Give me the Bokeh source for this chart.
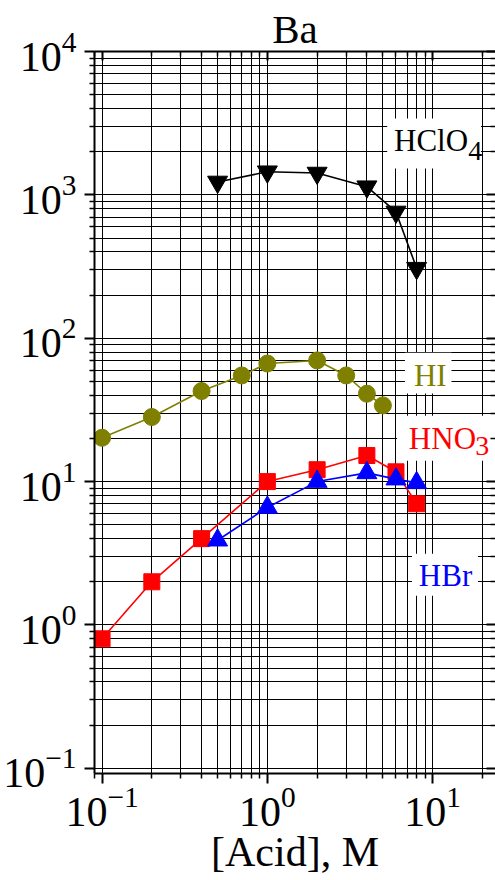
import numpy as np
from bokeh.plotting import figure
from bokeh.models import LogAxis, FixedTicker, LogTickFormatter, Range1d
from bokeh.core.properties import value
from bokeh.embed import file_html
from bokeh.resources import INLINE

# ---- data ----
acid_hclo4 = [0.5, 1, 2, 4, 6, 8]
d_hclo4 = [1230, 1450, 1420, 1140, 760, 308]

acid_hi = [0.1, 0.2, 0.4, 0.7, 1, 2, 3, 4, 5]
d_hi = [20.2, 28.2, 42.8, 55, 66.6, 70, 55, 41, 34]

acid_hno3 = [0.1, 0.2, 0.4, 1, 2, 4, 6, 8]
d_hno3 = [0.8, 2.0, 4.0, 10, 12.1, 15.2, 11.7, 7.0]

acid_hbr = [0.5, 1, 2, 4, 6, 8]
d_hbr = [3.9, 6.6, 10.0, 11.5, 10.4, 9.8]

x_major = [0.1, 1, 10]
y_major = [0.1, 1, 10, 100, 1000, 10000]

FONT = "Liberation Serif"

x_minor = [m * 10.0 ** e for e in range(-2, 2) for m in range(2, 10)]
y_minor = [m * 10.0 ** e for e in range(-2, 4) for m in range(2, 10)]

xt = FixedTicker(ticks=x_major, minor_ticks=x_minor)
yt = FixedTicker(ticks=y_major, minor_ticks=y_minor)

p = figure(width=495, height=880, x_axis_type="log", y_axis_type="log",
           x_range=Range1d(0.09, 24), y_range=Range1d(0.092, 10000),
           output_backend="svg", toolbar_location=None,
           min_border_left=90, min_border_right=0, min_border_top=51,
           min_border_bottom=107, outline_line_color=None)

p.title.text = "Ba"
p.title.align = "center"
p.title.text_font = FONT
p.title.text_font_size = "41px"
p.title.text_font_style = "normal"
p.title.text_color = "black"
p.title.standoff = 0

for g, t in ((p.xgrid, xt), (p.ygrid, yt)):
    g.ticker = t
    g.grid_line_color = "black"
    g.grid_line_width = 1
    g.minor_grid_line_color = "black"
    g.minor_grid_line_width = 1

def style_axis(ax, ticker, labels=True, inward=False):
    ax.ticker = ticker
    ax.formatter = LogTickFormatter()
    ax.axis_line_width = 2
    ax.major_tick_line_width = 2
    ax.minor_tick_line_width = 1.5
    if inward:
        ax.major_tick_in = 9
        ax.major_tick_out = 0
        ax.minor_tick_in = 5
        ax.minor_tick_out = 0
    else:
        ax.major_tick_in = 0
        ax.major_tick_out = 10
        ax.minor_tick_in = 0
        ax.minor_tick_out = 5
    if labels:
        ax.major_label_text_font = FONT
        ax.major_label_text_font_size = "42px"
        ax.major_label_text_color = "black"
    else:
        ax.major_label_text_font_size = "1px"
        ax.major_label_text_color = None
        ax.major_label_standoff = 0

style_axis(p.xaxis[0], xt)
style_axis(p.yaxis[0], yt)
p.xaxis[0].major_label_standoff = 4
p.yaxis[0].major_label_standoff = 8
p.xaxis[0].axis_label = "[Acid], M"
p.xaxis[0].axis_label_text_font = FONT
p.xaxis[0].axis_label_text_font_size = "42px"
p.xaxis[0].axis_label_text_font_style = "normal"
p.xaxis[0].axis_label_text_color = "black"
p.xaxis[0].axis_label_standoff = 0

top_ax = LogAxis()
style_axis(top_ax, xt, labels=False, inward=True)
p.add_layout(top_ax, "above")
right_ax = LogAxis()
style_axis(right_ax, yt, labels=False, inward=True)
right_ax.axis_line_color = None
p.add_layout(right_ax, "right")

# ---- white boxes behind the series names ----
p.quad(left=[5.31, 6.80, 6.09, 7.49], right=[19.6, 13.0, 22.5, 18.8],
       top=[3408, 79.3, 28.8, 3.14], bottom=[1526, 41.1, 14.0, 1.60],
       fill_color="white", line_color=None)

# ---- series ----
series = [
    (acid_hclo4, d_hclo4, "black", "inverted_triangle", 20),
    (acid_hi, d_hi, "#808000", "circle", 17),
    (acid_hno3, d_hno3, "#ff0000", "square", 16),
    (acid_hbr, d_hbr, "#0000ff", "triangle", 20),
]
for xs, ys, c, m, s in series:
    p.line(xs, ys, line_color=c, line_width=1.6)
    p.scatter(xs, ys, marker=m, size=s, fill_color=c, line_color=c)

# ---- series names (text glyphs) ----
def lab(x, y, text, color, size="31px"):
    p.text(x=[x], y=[y], text=[text], text_font=value(FONT),
           text_font_size=value(size), text_color=color,
           text_baseline="alphabetic", text_align="left")

lab(5.84, 2393, "HClO", "black")
lab(16.4, 2039, "4", "black", size="28px")
lab(7.70, 54.9, "HI", "#808000")
lab(7.18, 19.94, "HNO", "#ff0000")
lab(18.1, 17.81, "3", "#ff0000", size="28px")
lab(8.25, 2.205, "HBr", "#0000ff")

open("out.html", "w").write(file_html(p, INLINE))
